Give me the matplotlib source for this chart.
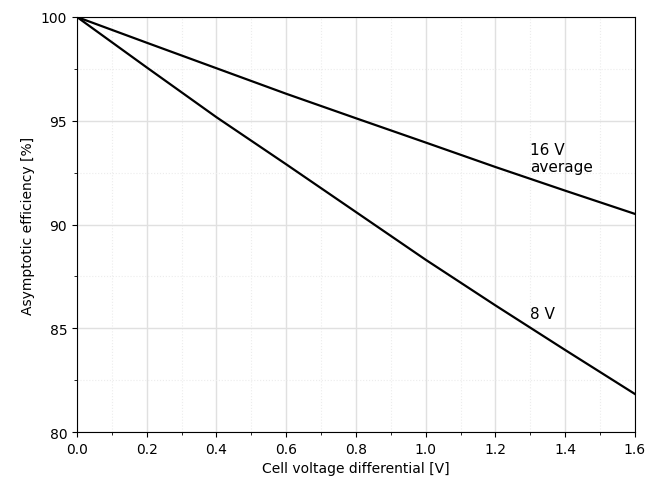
import matplotlib
matplotlib.use("Agg")
import matplotlib.pyplot as plt
from matplotlib.ticker import MultipleLocator

dv = [0.0, 0.2, 0.4, 0.6, 0.8, 1.0, 1.2, 1.4, 1.6]
eff_16v = [100.0, 98.76, 97.53, 96.30, 95.12, 93.95, 92.77, 91.63, 90.51]
eff_8v = [100.0, 97.57, 95.17, 92.90, 90.60, 88.30, 86.10, 83.95, 81.83]

fig = plt.figure(figsize=(6.49, 4.85), dpi=100)
ax = fig.add_axes([0.1186, 0.1072, 0.8598, 0.8557])

ax.plot(dv, eff_16v, color="black", lw=1.6)
ax.plot(dv, eff_8v, color="black", lw=1.6)

ax.text(1.3, 92.6, "16 V\naverage", fontsize=11, va="baseline", linespacing=1.1)
ax.text(1.3, 85.5, "8 V", fontsize=11, va="baseline")

ax.set_xlim(0, 1.6)
ax.set_ylim(80, 100)
ax.xaxis.set_major_locator(MultipleLocator(0.2))
ax.xaxis.set_minor_locator(MultipleLocator(0.1))
ax.yaxis.set_major_locator(MultipleLocator(5))
ax.yaxis.set_minor_locator(MultipleLocator(2.5))
ax.grid(True, which="major", color="#e0e0e0", lw=1.0)
ax.grid(True, which="minor", color="#ececec", lw=0.8, ls=":")
ax.set_axisbelow(True)

ax.set_xlabel("Cell voltage differential [V]")
ax.set_ylabel("Asymptotic efficiency [%]")

fig.savefig("out.png", dpi=100)
